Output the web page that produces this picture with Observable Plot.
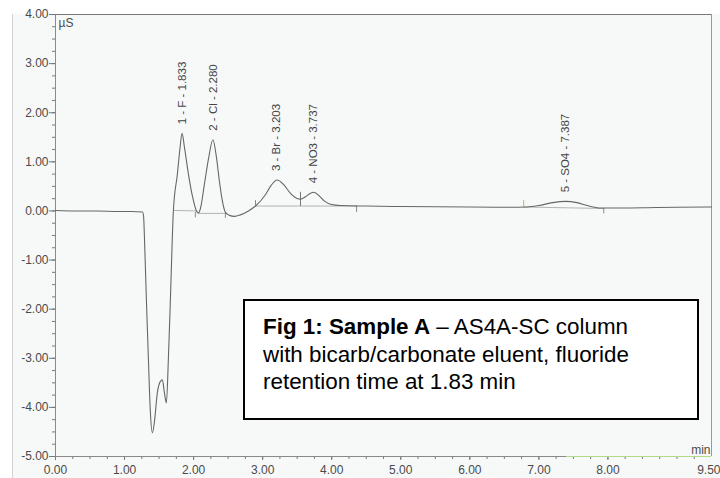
<!DOCTYPE html>
<html>
<head>
<meta charset="utf-8">
<script src="https://cdn.jsdelivr.net/npm/d3@7"></script>
<script src="https://cdn.jsdelivr.net/npm/@observablehq/plot@0.6"></script>
<style>
  body { margin: 0; background: #fff; font-family: "Liberation Sans", Arial, sans-serif; }
  #wrap { position: relative; width: 720px; height: 478px; overflow: hidden; }
  #bg { position: absolute; left: 12px; top: 14px; width: 708px; height: 464px; background: #f7f9f9; border-left: 1px solid #cfd3d3; }
  #chart { position: absolute; left: 0; top: 0; }
  #note { position: absolute; left: 243px; top: 299px; width: 456px; height: 121px; border: 2px solid #000; background: #fff;
          font-size: 22.4px; line-height: 27.5px; color: #000; padding: 12px 0 0 18px; box-sizing: border-box; }
</style>
</head>
<body>
<div id="wrap">
  <div id="bg"></div>
  <div id="chart"></div>
  <div id="note"><b>Fig 1: Sample A</b> – AS4A-SC column<br>with bicarb/carbonate eluent, fluoride<br>retention time at 1.83 min</div>
</div>
<script>
// Chromatogram trace (time in min, conductivity in µS)
const times = [0.00,0.30,0.60,0.90,1.10,1.26,1.275,1.294,1.316,1.345,1.374,1.403,1.432,1.475,1.519,1.548,1.577,1.606,1.635,1.664,1.707,1.765,1.801,1.833,1.867,1.925,1.983,2.041,2.070,2.099,2.157,2.214,2.280,2.330,2.374,2.417,2.461,2.519,2.591,2.678,2.794,2.896,3.040,3.128,3.210,3.301,3.403,3.490,3.548,3.620,3.693,3.740,3.809,3.896,3.997,4.128,4.500,5.000,5.500,6.000,6.500,6.833,7.000,7.200,7.387,7.550,7.700,7.890,8.200,8.700,9.000,9.500];
const signal = [0.01,0.00,0.00,-0.01,-0.01,-0.02,-0.10,-0.80,-1.80,-3.00,-4.10,-4.52,-4.30,-3.70,-3.47,-3.44,-3.70,-3.91,-3.00,-1.80,0.00,0.75,1.25,1.58,1.30,0.75,0.30,0.00,-0.04,0.05,0.55,1.05,1.45,1.10,0.60,0.20,-0.03,-0.09,-0.11,-0.08,0.00,0.10,0.33,0.53,0.63,0.54,0.36,0.26,0.24,0.29,0.36,0.38,0.32,0.20,0.13,0.11,0.10,0.09,0.085,0.08,0.075,0.08,0.11,0.17,0.195,0.17,0.11,0.06,0.06,0.07,0.075,0.08];

// Peak annotations
const peakLabels = ["1 - F - 1.833","2 - Cl - 2.280","3 - Br - 3.203","4 - NO3 - 3.737","5 - SO4 - 7.387"];
const peakTimes = [1.833, 2.280, 3.203, 3.737, 7.387];
const peakHeights = [1.58, 1.45, 0.63, 0.38, 0.195];

// Integration baselines (segment id, time, value)
const baseSeg = ["a","a","b","b","c","c","d","d"];
const baseT = [1.72, 2.05, 2.07, 2.46, 2.896, 4.36, 6.78, 7.94];
const baseV = [0.01, 0.00, -0.05, -0.05, 0.10, 0.10, 0.08, 0.05];

// Peak boundary markers
const markT = [2.025, 2.46, 2.896, 3.548, 4.36, 6.78, 7.94];
const markY1 = [-0.03, -0.05, 0.10, 0.38, 0.10, 0.08, 0.05];
const markY2 = [-0.14, -0.15, 0.21, 0.09, -0.03, 0.21, -0.06];
const markColor = ["#888","#888","#888","#777","#888","#9c6","#888"];

// Axis ticks
const xTicks = [0,1,2,3,4,5,6,7,8];
const xLast = [9.5];
const xMinor = d3.range(0, 9.5, 0.25);
const yTicks = [4,3,2,1,0,-1,-2,-3,-4,-5];
const yMinor = d3.range(-5, 4.001, 0.25);

const trace = times.map((t, i) => ({t, v: signal[i]}));
const peaks = peakLabels.map((label, i) => ({label, t: peakTimes[i], v: peakHeights[i]}));
const base = baseT.map((t, i) => ({seg: baseSeg[i], t, v: baseV[i]}));
const marks = markT.map((t, i) => ({t, y1: markY1[i], y2: markY2[i], c: markColor[i]}));

const chart = Plot.plot({
  width: 720,
  height: 478,
  marginLeft: 55,
  marginRight: 9,
  marginTop: 14,
  marginBottom: 22,
  style: {background: "transparent", fontFamily: "'Liberation Sans', Arial, sans-serif", fontSize: "12px", color: "#4a4a4a"},
  x: {domain: [0, 9.5]},
  y: {domain: [-5, 4]},
  marks: [
    Plot.axisY({ticks: yMinor, tickSize: 3, tickFormat: () => "", label: null, stroke: "#777"}),
    Plot.axisY({ticks: yTicks, tickSize: 6, tickPadding: 1, tickFormat: d => d.toFixed(2), label: null, stroke: "#777", fill: "#4a4a4a"}),
    Plot.axisX({ticks: xMinor, tickSize: 3, tickFormat: () => "", label: null, stroke: "#777"}),
    Plot.axisX({ticks: xTicks, tickSize: 4, tickPadding: 5, tickFormat: d => d.toFixed(2), label: null, stroke: "#777", fill: "#4a4a4a"}),
    Plot.axisX({ticks: xLast, tickSize: 4, tickPadding: 5, tickFormat: d => d.toFixed(2), textAnchor: "end", dx: 9, label: null, stroke: "#777", fill: "#4a4a4a"}),
    Plot.ruleX([0], {stroke: "#8a8a8a"}),
    Plot.ruleX([9.5], {stroke: "#9a9a9a"}),
    Plot.ruleY([4], {stroke: "#777", strokeWidth: 1.2}),
    Plot.ruleY([-5], {stroke: "#8a8a8a"}),
    Plot.ruleY([-5], {x1: 7.4, x2: 9.5, stroke: "#b5d98a"}),
    Plot.line(base, {x: "t", y: "v", z: "seg", stroke: "#aaa", strokeWidth: 0.9}),
    Plot.ruleX(marks, {x: "t", y1: "y1", y2: "y2", stroke: "c", strokeWidth: 1}),
    Plot.line(trace, {x: "t", y: "v", stroke: "#666", strokeWidth: 1.1, curve: "monotone-x"}),
    Plot.text(peaks, {x: "t", y: "v", text: "label", rotate: -90, textAnchor: "start", dy: -9, fill: "#444", fontSize: 11.5}),
    Plot.text(["µS"], {frameAnchor: "top-left", dx: 3, dy: 4, textAnchor: "start", lineAnchor: "top", fill: "#4a4a4a"}),
    Plot.text(["min"], {frameAnchor: "bottom-right", dx: -1, dy: -3, textAnchor: "end", lineAnchor: "bottom", fill: "#4a4a4a"})
  ]
});
document.getElementById("chart").append(chart);
</script>
</body>
</html>
